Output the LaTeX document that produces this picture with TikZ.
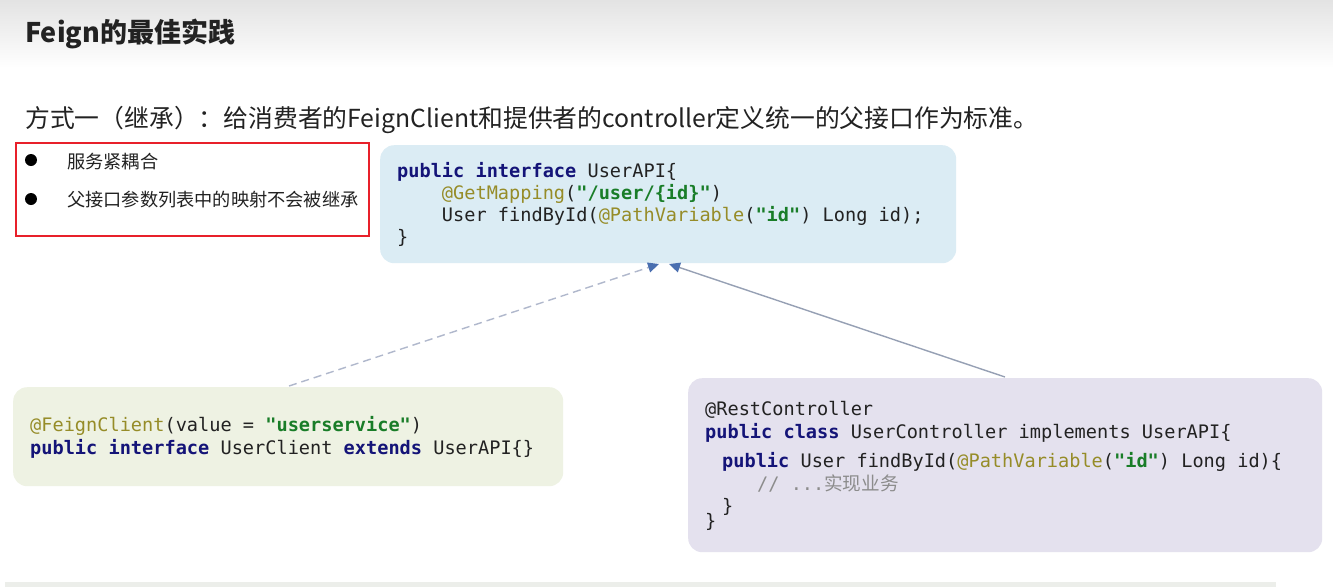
\documentclass[tikz,border=0pt]{standalone}
\usepackage{fontspec}
\setmainfont{Noto Sans CJK SC}
\setmonofont{DejaVu Sans Mono}
\newfontfamily\cjk{Noto Sans CJK SC}
\usetikzlibrary{arrows.meta,shadings}
\definecolor{kwc}{RGB}{20,20,120}
\definecolor{annc}{RGB}{150,140,40}
\definecolor{strc}{RGB}{25,125,40}
\definecolor{txtc}{RGB}{34,34,34}
\definecolor{cmc}{RGB}{140,140,140}
\definecolor{bluebox}{RGB}{219,236,244}
\definecolor{greenbox}{RGB}{238,242,227}
\definecolor{purplebox}{RGB}{228,225,238}
\definecolor{redc}{RGB}{232,32,42}
\definecolor{arrowc}{RGB}{74,111,176}
\definecolor{dashc}{RGB}{176,184,204}
\definecolor{solidc}{RGB}{150,160,180}
\definecolor{barc}{RGB}{236,238,234}
\newcommand\kwd[1]{{\color{kwc}\bfseries #1}}
\newcommand\ann[1]{{\color{annc}#1}}
\newcommand\strg[1]{{\color{strc}\bfseries #1}}
\tikzset{
  box/.style={rounded corners=14pt, inner sep=0pt, anchor=north west},
  code/.style={anchor=base west, inner sep=0pt, text=txtc, font=\ttfamily\fontsize{18.6}{22}\selectfont},
  cn/.style={anchor=base west, inner sep=0pt, text=txtc},
  link/.style={line width=1.4pt, -{Triangle[length=11pt,width=10pt,color=arrowc,fill=arrowc]}},
}
\begin{document}
\begin{tikzpicture}[x=1pt,y=-1pt]
\useasboundingbox (0,0) rectangle (1333,587);
\fill[white] (0,0) rectangle (1333,587);
\shade[top color=black!11, bottom color=white] (0,0) rectangle (1333,68);
\node[cn, font=\bfseries\fontsize{27}{32}\selectfont] (title) at (25,42) {Feign的最佳实践};
\node[cn, font=\fontsize{24.8}{30}\selectfont] (sub) at (25,127) {方式一（继承）：给消费者的FeignClient和提供者的controller定义统一的父接口作为标准。};
% red box
\node[draw=redc, line width=1.5pt, anchor=north west, minimum width=353pt, minimum height=93pt, inner sep=0pt] (red) at (15,142) {};
\fill[black] (31,160) circle (6pt);
\fill[black] (31,199) circle (6pt);
\node[cn, font=\fontsize{18.2}{22}\selectfont] (b1) at (67,168) {服务紧耦合};
\node[cn, font=\fontsize{18.2}{22}\selectfont] (b2) at (67,206) {父接口参数列表中的映射不会被继承};
% blue box
\node[box, fill=bluebox, minimum width=576pt, minimum height=118pt] (api) at (380,145) {};
\node[code] (a1) at (397,177) {\kwd{public} \kwd{interface} UserAPI\{};
\node[code] (a2) at (397,199) {\ \ \ \ \ann{@GetMapping}(\strg{"/user/\{id\}"})};
\node[code] (a3) at (397,221) {\ \ \ \ User findById(\ann{@PathVariable}(\strg{"id"}) Long id);};
\node[code] (a4) at (397,243) {\}};
% green box
\node[box, fill=greenbox, minimum width=550pt, minimum height=99pt] (client) at (13,387) {};
\node[code] (c1) at (30,431) {\ann{@FeignClient}(value = \strg{"userservice"})};
\node[code] (c2) at (30,454) {\kwd{public} \kwd{interface} UserClient \kwd{extends} UserAPI\{\}};
% purple box
\node[box, fill=purplebox, minimum width=634pt, minimum height=174pt] (ctrl) at (688,378) {};
\node[code] (p1) at (705,415) {@RestController};
\node[code] (p2) at (705,438) {\kwd{public} \kwd{class} UserController implements UserAPI\{};
\node[code] (p3) at (722,467) {\kwd{public} User findById(\ann{@PathVariable}(\strg{"id"}) Long id)\{};
\node[code, text=cmc] (p4) at (757,490) {// ...{\cjk 实现业务}};
\node[code] (p5) at (722,512) {\}};
\node[code] (p6) at (705,527) {\}};
% connectors
\coordinate (dstart) at (289,386);
\coordinate (dend) at (659,264);
\coordinate (sstart) at (1005,377);
\coordinate (send) at (669,264);
\draw[link, dashc, dash pattern=on 8pt off 5pt] (dstart) -- (dend);
\draw[link, solidc] (sstart) -- (send);
% bottom bar
\fill[barc] (5,582) rectangle (1276,587);
\end{tikzpicture}
\end{document}
